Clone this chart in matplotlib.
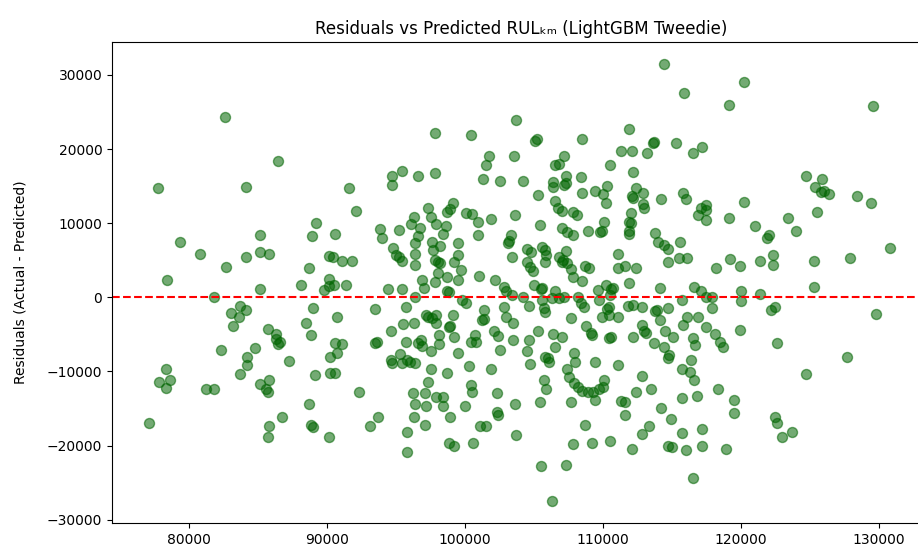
import numpy as np
import matplotlib
matplotlib.use("Agg")
import matplotlib.pyplot as plt

# (predicted, residual) pairs
points = [
(82600,24300),(86400,18400),(77700,14700),(84100,14900),
(97800,22100),(100400,21900),(103700,23900),(103550,19100),(101700,19000),(101500,17900),
(95400,17100),(94700,16400),(94700,15200),(96600,16400),(97800,16800),(101300,15900),
(102500,15700),(91600,14700),(99100,12700),
(114400,31400),(115900,27600),(105100,21100),(105200,21300),(108500,21300),(111900,22700),
(113600,20800),(113700,20900),(115300,20800),(117200,20300),(116500,19500),(111300,19700),
(112100,19700),(113200,19400),(107200,19100),(106500,17800),(106800,18000),(110500,17800),
(112200,16900),(104200,15700),(107300,16400),(108400,16200),(106400,15600),(106400,14900),
(107200,15200),(107300,15400),(108500,14100),(109400,14400),(110300,15000),(110000,13900),
(105300,13800),(112400,14800),(112100,13600),(112200,13400),(112900,14000),(114200,13300),
(115800,14100),(116000,13200),(106500,13000),(117500,12500),(110200,12700),(112900,12600),
(120200,29100),(119100,26000),(129600,25800),(124700,16400),(125900,15900),(125400,14900),
(125800,14200),(126000,14400),(126400,13900),(128400,13700),(129400,12700),(120200,12800),
(119100,10700),(121000,9600),(123400,10700),(125500,11500),(124000,8900),(122000,8400),
(121900,8000),(122300,5700),(122300,4300),(121400,4900),(119200,5200),(119900,4200),
(118200,4000),(125300,4900),(127900,5300),(130800,6600),(125300,1400),(120000,800),
(120000,-500),(121400,500),(117900,100),(117900,-1500),(122200,-1700),(122500,-1300),
(129800,-2300),(118100,-4900),(119900,-4400),(118500,-6000),(118700,-6700),(122600,-6100),
(127700,-8000),
(124700,-10300),(118300,-12400),(119500,-13800),(119500,-15600),(122500,-16200),(122600,-16900),
(123700,-18100),(123000,-18900),(118900,-20400),
(79300,7500),(80800,5900),(78400,2400),(81800,100),(82700,4100),(84100,5400),(85100,8400),
(85100,6100),(85800,5900),(85100,1100),(88100,1600),(88700,3900),(88900,8300),(89200,10000),
(83000,-2100),(83700,-1200),(84100,-1700),(83600,-2700),(83200,-3900),(85700,-4300),
(86300,-4900),(86300,-5600),(86600,-6000),(86400,-6300),(88500,-3400),(88800,-5100),
(89000,-1500),(82300,-7100),(84800,-6800),(84200,-8000),
(78300,-9700),(77800,-11400),(78600,-11200),(78300,-12200),(77100,-17000),(81200,-12400),
(81800,-12400),(83700,-10400),(84200,-9100),(85100,-11700),(85800,-11200),(85600,-12400),
(85700,-12800),(87200,-8600),(88700,-14400),(88800,-17200),(89000,-17500),(89100,-10500),
(86700,-16200),(85800,-17300),(85700,-18800),
(90200,-10200),(90600,-10200),(92300,-12700),(90100,-18900),(93100,-17300),(93700,-16200),
(95800,-18100),(95800,-20900),(96200,-12900),(97100,-12900),(96400,-14400),(97200,-14600),
(96300,-16100),(97100,-17200),(97300,-11400),(97500,-9600),(98700,-10200),(97900,-13500),
(98400,-13500),(98400,-14700),(98900,-16200),(98800,-19600),(99200,-20000),(100300,-9300),
(100400,-11800),(100500,-12800),(100000,-14600),(101900,-9700),(102300,-12900),(102300,-15400),
(102400,-15800),(101100,-17300),(101500,-17300),(100600,-19600),(103600,-14400),(103700,-18600),
(104700,-9000),(106100,-8700),(108000,-8700),(109400,-8700),(111100,-9100),(105700,-11200),
(105900,-12300),(107400,-9700),(107500,-10700),(107900,-11600),(108200,-12100),(108500,-12600),
(108900,-12700),(109300,-12700),(109700,-12400),(110000,-12100),(110100,-11200),(109400,-13800),
(105400,-14100),(107700,-14100),(108700,-17200),(107800,-19800),(109200,-19600),(110500,-19400),
(105500,-22800),(107300,-22600),(106300,-27400),(111300,-14000),(111600,-14100),(111600,-15900),
(112400,-12800),(112800,-10600),(113500,-12400),(114200,-14900),(114900,-16400),(113300,-17300),
(112800,-18400),(112100,-20400),(114700,-20000),(115000,-20200),(115700,-9600),(116300,-10100),
(116600,-11100),(115700,-13600),(116800,-13300),(115700,-18300),(117200,-17800),(116000,-20600),
(117200,-20000),(116500,-24400),
(92100,11700),(90600,8500),(90100,5600),(90400,5400),(91100,4900),(91800,4900),(90100,2500),
(89800,1000),(90100,1500),(90500,1600),(91400,1600),(90700,-2600),(90600,-6100),(91100,-6300),
(90700,-7500),(90200,-8100),(93500,-1600),(93500,-6200),(93600,-6000),(94600,-4500),(94400,1100),
(95400,1100),(93800,9200),(94000,8000),(95200,9100),(94800,6700),(95000,5700),(95200,5400),
(95400,4900),(96300,10800),(96100,9900),(96700,9300),(96600,8300),(96400,7300),(96400,5900),
(96400,4400),(96900,2300),(97000,1200),(96400,100),(95700,-1300),(95500,-3600),(96300,-3400),
(94600,-8500),(95300,-7600),(94700,-8900),(95400,-8800),(95800,-8500),(96000,-8700),(96400,-8900),
(95700,-6000),(96600,-6200),(96800,-5700),(96900,-6600),(97200,-2400),(97300,-2600),(97600,-2800),
(97900,-2400),(97900,-3500),(98100,-5100),(97500,-7300),(98100,-6300),(98800,-4000),(98900,-3800),
(99100,-2400),(99200,-5300),(99500,-7500),(97300,12000),(97500,10800),(97900,9900),(97600,7500),
(97700,6400),(97800,5000),(98000,4700),(98200,6900),(98400,8600),(98600,9600),(98700,11500),
(98900,11900),(98200,4600),(98000,3300),(98700,2700),(97800,2100),(99500,7300),(99500,5700),
(99200,4800),(99700,3700),(99500,2300),(98700,900),(98800,700),(99800,-300),(100100,-700),
(100100,11400),(100500,11200),(100900,10200),(101900,10500),(100900,8400),(103100,7300),
(103200,7600),(103400,5400),(101000,2900),(102200,2300),(102800,1400),(103000,800),(103400,300),
(102800,-1300),(101400,-1700),(101200,-3100),(101400,-2900),(100700,-5100),(100400,-6000),
(100800,-6000),(102100,-4600),(102400,-5200),(103000,-2700),(103500,-3500),(102500,-7100),
(103500,-5800),(103600,11100),(103300,8400),
(106700,12000),(107000,11600),(107800,11500),(108100,11100),(112000,11400),(111900,10200),
(112000,10000),(111900,8600),(111900,8900),(113000,12000),(117100,12100),(117500,11800),
(116900,11100),(117500,10400),(105400,9700),(107000,9300),(107400,8800),(107800,8400),
(108900,9000),(109900,9000),(110100,10100),(109800,8800),(104500,6500),(104800,6100),
(105600,6800),(105800,6400),(105900,5700),(105800,4700),(104500,4700),(104700,4100),
(104900,3500),(107300,6300),(106800,5500),(107000,4800),(107100,5000),(107400,4600),
(107700,3800),(107800,2700),(108500,2200),(108700,4200),(109000,3900),(111100,5800),
(111100,3900),(111600,4200),(112400,4000),(111900,1900),(113800,8700),(114000,7500),
(114400,7000),(114700,6500),(114700,4800),(115600,7500),(115500,5300),(116100,5300),
(114100,1300),(116600,1400),(117100,900),(115700,-300),(117500,100),(104200,0),(105000,1700),
(105500,1100),(105600,1300),(105600,-300),(106500,800),(106800,-100),(107200,0),(106300,-100),
(104600,-1200),(105700,-1500),(105800,-2000),(108200,100),(108400,-800),(108600,-1300),
(109600,1000),(110200,1700),(110600,1100),(110700,1300),(110500,300),(109700,-400),
(110400,-1300),(110300,-1600),(109900,-2600),(110400,-2400),(111100,-2700),(111800,-1200),
(112200,-1000),(112800,-1300),(113800,-1900),(113900,-1700),(114700,-1500),(114100,-3100),
(116100,-2700),(116900,-2600),(115800,-3700),(117500,-4000),(104600,-5700),(105300,-4600),
(106400,-4900),(107000,-5300),(107700,-2800),(108800,-3900),(109100,-4800),(109200,-5100),
(110400,-5500),(110600,-5400),(107900,-7500),(106500,-6700),(105800,-8000),(106000,-8200),
(104500,-7300),(112200,-5300),(113000,-4600),(113100,-4800),(112800,-3700),(113700,-6200),
(114500,-4600),(115100,-5300),(114400,-6700),(114800,-7800),(116500,-5500),(116700,-6400),
(114700,-8200),(116400,-8500),
]

predicted = [p[0] for p in points]
residuals = [p[1] for p in points]

title = "Residuals vs Predicted RUL\u2096\u2098 (LightGBM Tweedie)"
ylabel = "Residuals (Actual - Predicted)"

fig = plt.figure(figsize=(9.18, 5.49), dpi=100)
ax = fig.add_axes([0.122, 0.0468, 0.891, 0.877])
ax.scatter(predicted, residuals, s=52, color="darkgreen", alpha=0.55)
ax.axhline(0, color="red", linestyle="--", linewidth=1.5)
ax.set_xlim(74400, 133700)
ax.set_ylim(-30470, 34450)
ax.set_xticks([80000, 90000, 100000, 110000, 120000, 130000])
ax.set_yticks([-30000, -20000, -10000, 0, 10000, 20000, 30000])
ax.set_title(title, fontsize=12)
ax.set_ylabel(ylabel, labelpad=14)
fig.savefig("out.png", dpi=100)
